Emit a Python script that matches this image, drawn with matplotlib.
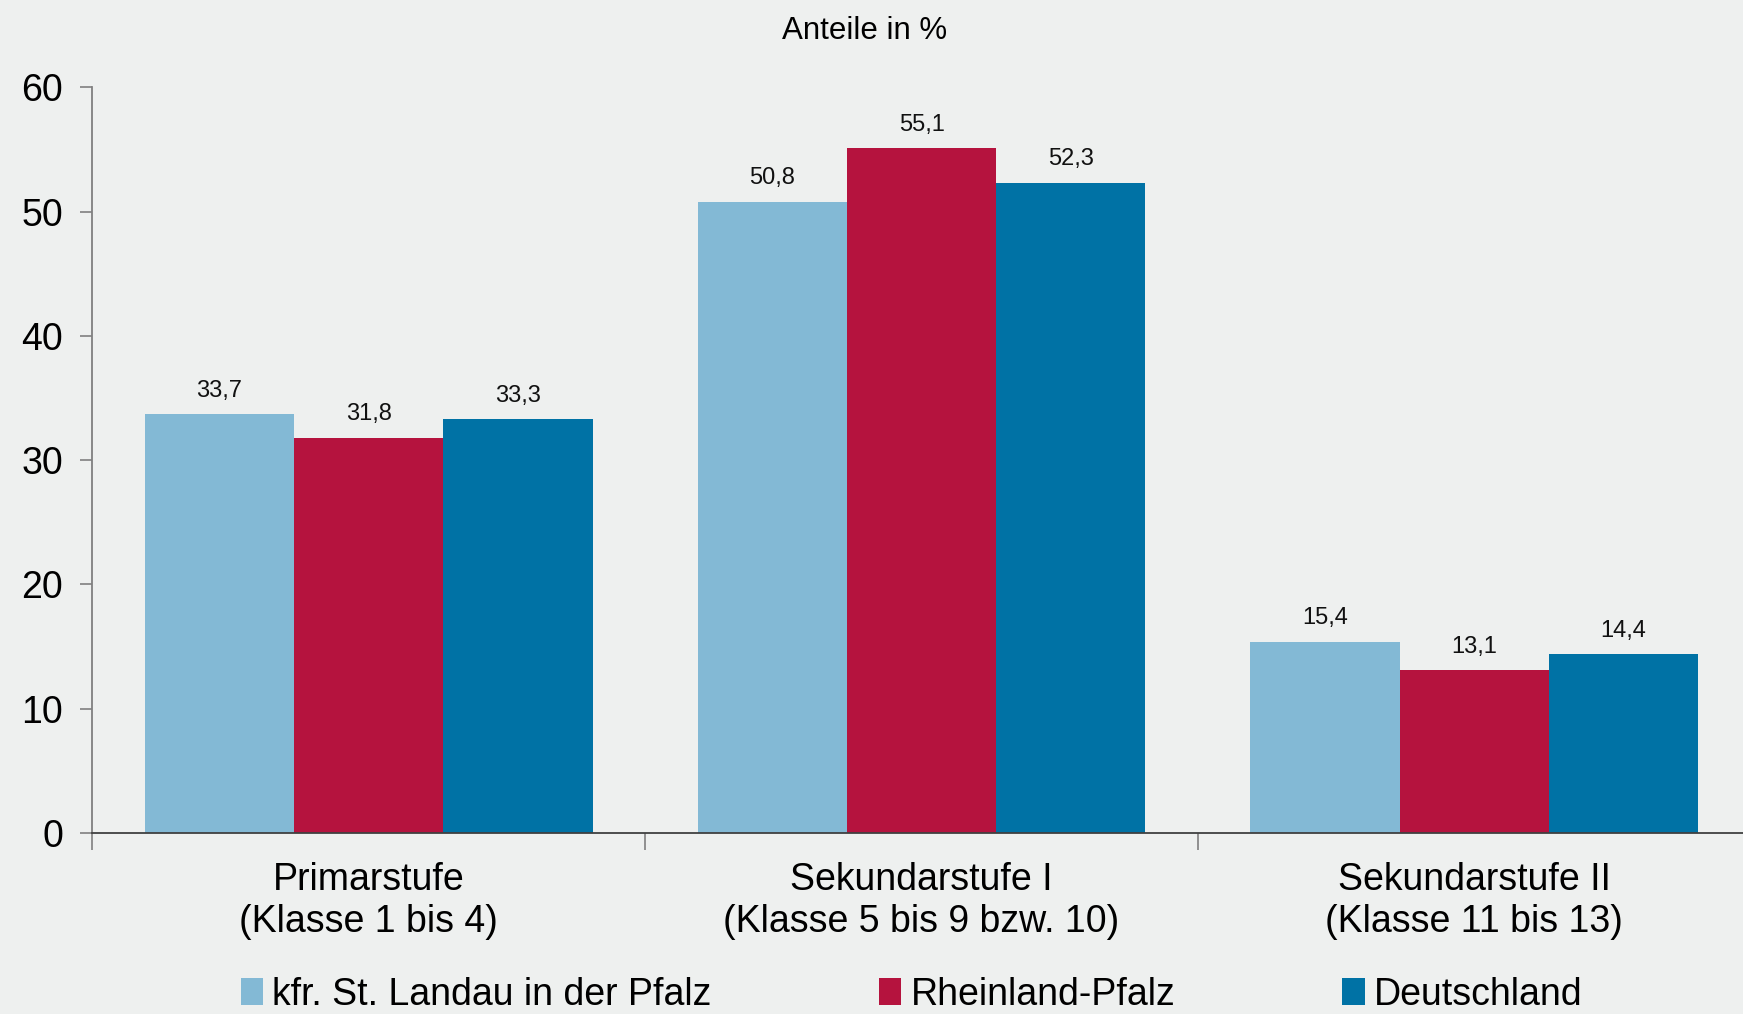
import matplotlib
matplotlib.use("Agg")
import matplotlib.pyplot as plt
import numpy as np
from matplotlib.patches import Patch

# Daten
categories = ["Primarstufe\n(Klasse 1 bis 4)",
              "Sekundarstufe I\n(Klasse 5 bis 9 bzw. 10)",
              "Sekundarstufe II\n(Klasse 11 bis 13)"]
series_names = ["kfr. St. Landau in der Pfalz", "Rheinland-Pfalz", "Deutschland"]
landau = [33.7, 50.8, 15.4]
rlp = [31.8, 55.1, 13.1]
deutschland = [33.3, 52.3, 14.4]
yticks = [0, 10, 20, 30, 40, 50, 60]

colors = ["#83B9D5", "#B5133E", "#0072A5"]
bg = "#EEF0EF"
font = ["Liberation Sans", "DejaVu Sans"]

fig = plt.figure(figsize=(17.43, 10.14), dpi=100, facecolor=bg)
ax = fig.add_axes([0.053, 0.1785, 0.947, 0.7355])
ax.set_facecolor(bg)

x = np.arange(len(categories))
w = 0.27
for i, (vals, c) in enumerate(zip([landau, rlp, deutschland], colors)):
    pos = x + (i - 1) * w
    ax.bar(pos, vals, width=w, color=c, edgecolor="none", zorder=2)
    for p, v in zip(pos, vals):
        ax.text(p, v + 1.0, f"{v:.1f}".replace(".", ","), ha="center", va="bottom",
                fontsize=17, family=font, color="#111111")

ax.set_xlim(-0.5, 2.486)
ax.set_ylim(0, 60)
ax.set_yticks(yticks)
ax.set_yticklabels([str(t) for t in yticks], fontsize=27, family=font)
ax.tick_params(axis="y", length=9, width=1.2, color="#808080", pad=12)

# Kategorie-Trennstriche und Beschriftungen
ax.set_xticks([-0.5, 0.5, 1.5])
ax.set_xticklabels([])
ax.tick_params(axis="x", length=12, width=1.2, color="#808080")
ax.set_xticks(x, minor=True)
ax.set_xticklabels(categories, minor=True, fontsize=27, family=font, linespacing=1.2)
ax.tick_params(axis="x", which="minor", length=0, pad=21)

for s in ["top", "right"]:
    ax.spines[s].set_visible(False)
ax.spines["left"].set_color("#808080")
ax.spines["left"].set_linewidth(1.3)
ax.spines["bottom"].set_color("#404040")
ax.spines["bottom"].set_linewidth(1.3)

fig.text(0.496, 0.969, "Anteile in %", ha="center", va="center", fontsize=22.5, family=font)

handles = [Patch(facecolor=c, edgecolor="none") for c in colors]
leg = fig.legend(handles, series_names, loc="center", bbox_to_anchor=(0.523, 0.019), ncol=3,
                 frameon=False, handlelength=0.6, handleheight=0.75, handletextpad=0.25,
                 columnspacing=4.45, prop={"family": font, "size": 27})

fig.savefig("out.png", dpi=100, facecolor=bg)
